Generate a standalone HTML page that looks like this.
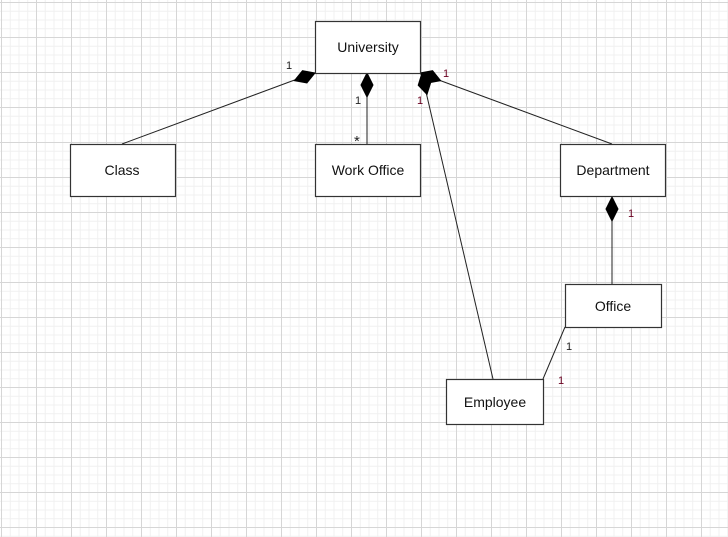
<!DOCTYPE html>
<html><head><style>
body{margin:0;width:728px;height:537px;overflow:hidden;background:#fff;
background-image:linear-gradient(#d6d6d6 1px,transparent 1px),linear-gradient(90deg,#d6d6d6 1px,transparent 1px),linear-gradient(#f0f0f0 1px,transparent 1px),linear-gradient(90deg,#f0f0f0 1px,transparent 1px);
background-size:35px 35px,35px 35px,8.75px 8.75px,8.75px 8.75px;
background-position:1px 2px,1px 2px,1px 2px,1px 2px;font-family:"Liberation Sans",sans-serif}
svg{position:absolute;left:0;top:0}
</style></head><body>
<svg width="728" height="537" font-family="Liberation Sans, sans-serif">
<g stroke="#222" stroke-width="1" fill="none">
<line x1="122" y1="144" x2="300" y2="78"/>
<line x1="367" y1="97" x2="367" y2="144"/>
<line x1="612" y1="144" x2="436" y2="79"/>
<line x1="493" y1="379" x2="426" y2="92"/>
<line x1="612" y1="220" x2="612" y2="284"/>
<line x1="565" y1="327" x2="543" y2="379"/>
</g>
<g fill="#000" stroke="#000">
<polygon points="315,73 302.5,70.7 294.4,80.6 306.9,82.9"/>
<polygon points="367,73 373,85 367,97 361,85"/>
<polygon points="420,73 428,82.9 440.6,80.6 432.6,70.7"/>
<polygon points="422,73 430.8,82.2 427,94.4 418.2,85.2"/>
<polygon points="612,197 618,209 612,221 606,209"/>
</g>
<g fill="#fff" stroke="#333" stroke-width="1.2">
<rect x="315.5" y="21.5" width="105" height="52"/>
<rect x="70.5" y="144.5" width="105" height="52"/>
<rect x="315.5" y="144.5" width="105" height="52"/>
<rect x="560.5" y="144.5" width="105" height="52"/>
<rect x="565.5" y="284.5" width="96" height="43"/>
<rect x="446.5" y="379.5" width="97" height="45"/>
</g>
<g font-size="14" fill="#111" text-anchor="middle">
<text x="368" y="52">University</text>
<text x="122" y="175">Class</text>
<text x="368" y="175">Work Office</text>
<text x="613" y="175">Department</text>
<text x="613" y="311">Office</text>
<text x="495" y="407">Employee</text>
</g>
<g font-size="11" fill="#222">
<text x="286" y="69">1</text>
<text x="355" y="104">1</text>
<text x="354" y="146" font-size="15">*</text>
<text x="443" y="77" fill="#6a0020">1</text>
<text x="417" y="104" fill="#6a0020">1</text>
<text x="628" y="217" fill="#6a0020">1</text>
<text x="566" y="350">1</text>
<text x="558" y="384" fill="#6a0020">1</text>
</g>
</svg>
</body></html>
